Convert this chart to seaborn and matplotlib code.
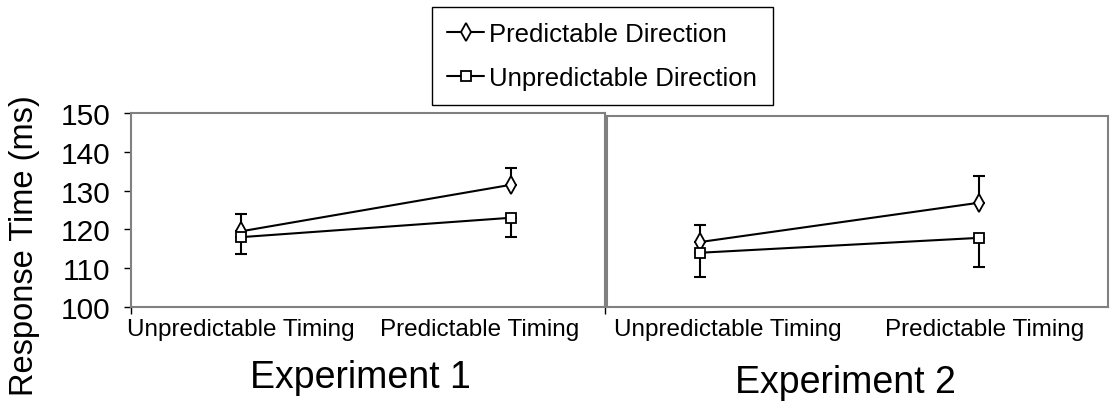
import matplotlib
matplotlib.use("Agg")
import matplotlib.pyplot as plt
import seaborn as sns
import pandas as pd
import numpy as np

# data
timing = ["Unpredictable Timing", "Predictable Timing"]
directions = ["Predictable Direction", "Unpredictable Direction"]

exp1_pred = [119.5, 131.5]
exp1_unpred = [118.0, 123.0]
exp1_pred_err = [4.5, 4.4]      # drawn upwards
exp1_unpred_err = [4.3, 5.0]    # drawn downwards

exp2_pred = [117.0, 127.3]
exp2_unpred = [114.2, 118.1]
exp2_pred_err = [4.5, 7.0]
exp2_unpred_err = [6.4, 7.5]

yticks = [100, 110, 120, 130, 140, 150]

sns.set_style("white")
plt.rcParams['font.family'] = ['Liberation Sans', 'DejaVu Sans']
plt.rcParams['text.color'] = 'black'
plt.rcParams['axes.labelcolor'] = 'black'
plt.rcParams['xtick.color'] = 'black'
plt.rcParams['ytick.color'] = 'black'

fig = plt.figure(figsize=(11.1, 4.1), dpi=100)
ax1 = fig.add_axes([131 / 1110, 1 - 308 / 410, 474 / 1110, 194 / 410])
ax2 = fig.add_axes([607 / 1110, 1 - 308 / 410, 501 / 1110, 191 / 410])

markers = {"Predictable Direction": "d", "Unpredictable Direction": "s"}
gray = "#808080"


def draw_panel(ax, pred, unpred, pred_err, unpred_err, xlim, tickpos, ylim):
    df = pd.DataFrame({
        "timing": timing * 2,
        "rt": pred + unpred,
        "direction": [directions[0]] * 2 + [directions[1]] * 2,
    })
    sns.lineplot(data=df, x="timing", y="rt", style="direction",
                 markers=markers, dashes=False, color="black", lw=1.5,
                 markersize=9, markerfacecolor="white", markeredgecolor="black",
                 markeredgewidth=1.3, ax=ax, zorder=3, legend=True)
    xs = np.arange(len(timing))
    ax.errorbar(xs, pred, yerr=[np.zeros(2), pred_err], fmt="none",
                ecolor="black", elinewidth=1.5, capsize=4, capthick=1.5, zorder=2)
    ax.errorbar(xs, unpred, yerr=[unpred_err, np.zeros(2)], fmt="none",
                ecolor="black", elinewidth=1.5, capsize=4, capthick=1.5, zorder=2)
    # square markers a bit smaller
    for ln in ax.get_lines():
        if ln.get_marker() == "s":
            ln.set_markersize(6.5)
    ax.set_xlim(*xlim)
    ax.set_ylim(*ylim)
    ax.set_xticks(tickpos)
    ax.set_xticklabels(timing, fontsize=17.5)
    ax.tick_params(axis="x", length=0, pad=8)
    ax.set_xlabel("")
    ax.set_ylabel("")
    for sp in ax.spines.values():
        sp.set_color(gray)
        sp.set_linewidth(1.5)


draw_panel(ax1, exp1_pred, exp1_unpred, exp1_pred_err, exp1_unpred_err,
           (-0.407, 1.348), [0.0, 0.885], (100, 150))
draw_panel(ax2, exp2_pred, exp2_unpred, exp2_pred_err, exp2_unpred_err,
           (-0.333, 1.462), [0.1, 1.02], (100, 150))

ax1.set_yticks(yticks)
ax1.tick_params(axis="y", labelsize=21.5, left=True, length=5, width=1,
                color="black", pad=10)
ax1.set_xticks([-0.407, 1.348], minor=True)
ax1.tick_params(axis="x", which="minor", bottom=True, length=5, width=1, color="black")
ax1.set_ylabel("Response Time (ms)", fontsize=23.5)
ax1.yaxis.set_label_coords(-0.192, 0.32)
ax2.set_yticks([])

handles, labels = ax1.get_legend_handles_labels()
ax1.get_legend().remove()
ax2.get_legend().remove()
for h in handles:
    if h.get_marker() == "s":
        h.set_markersize(6.5)
leg = fig.legend(handles, labels, loc="upper left", mode="expand",
                 bbox_to_anchor=(432 / 1110, 1 - 103 / 410, 341 / 1110, 95 / 410),
                 borderaxespad=0,
                 fontsize=18.5, frameon=True, fancybox=False, framealpha=1,
                 edgecolor="black", handlelength=1.45, handletextpad=0.2,
                 borderpad=0.58, labelspacing=0.8)
leg.get_frame().set_linewidth(1.0)

fig.text(360 / 1110, 1 - 378 / 410, "Experiment 1", fontsize=27,
         ha="center", va="center")
fig.text(845 / 1110, 1 - 383 / 410, "Experiment 2", fontsize=27,
         ha="center", va="center")

fig.savefig("out.png", dpi=100)
